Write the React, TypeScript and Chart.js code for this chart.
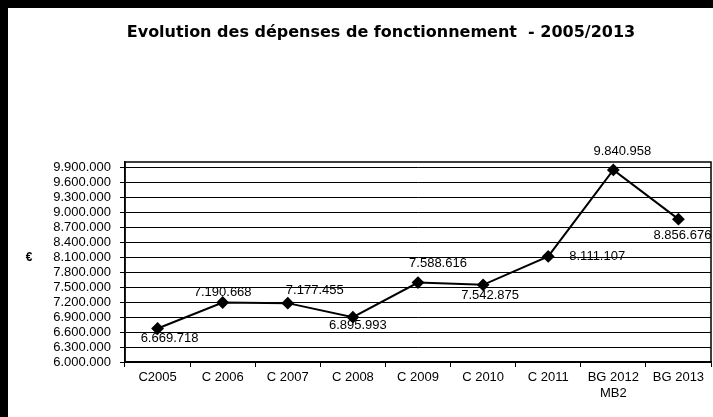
import React, { useEffect, useRef } from "react";
import { Chart, registerables } from "chart.js";
Chart.register(...registerables);

const TITLE = "Evolution des dépenses de fonctionnement  - 2005/2013";
const Y_UNIT = "€";
const CATEGORIES: (string | string[])[] = [
  "C2005",
  "C 2006",
  "C 2007",
  "C 2008",
  "C 2009",
  "C 2010",
  "C 2011",
  ["BG 2012", "MB2"],
  "BG 2013",
];
const VALUES = [6669718, 7190668, 7177455, 6895993, 7588616, 7542875, 8111107, 9840958, 8856676];
const Y_MIN = 6000000;
const Y_MAX = 10000000;
const Y_TICKS = [
  6000000, 6300000, 6600000, 6900000, 7200000, 7500000, 7800000, 8100000, 8400000, 8700000,
  9000000, 9300000, 9600000, 9900000,
];
// label placement relative to each point (dx, dy in px)
const LABEL_OFFSETS: [number, number][] = [
  [12, 10],
  [0, -10],
  [27, -13],
  [5, 8],
  [20, -19],
  [7, 11],
  [49, 0],
  [9, -19],
  [4, 16],
];

const fmt = (n: number) => Math.round(n).toString().replace(/\B(?=(\d{3})+(?!\d))/g, ".");
const FONT = "'Liberation Sans', Arial, sans-serif";

export default function App() {
  const ref = useRef<HTMLCanvasElement | null>(null);
  useEffect(() => {
    document.body.style.margin = "0";
    const canvas = ref.current!;
    const deco = {
      id: "deco",
      beforeDraw(chart: any) {
        const { ctx, width, height } = chart;
        ctx.save();
        ctx.fillStyle = "#000";
        ctx.fillRect(0, 0, width, height);
        ctx.fillStyle = "#fff";
        ctx.fillRect(8, 8, width - 8, height - 8);
        ctx.restore();
      },
      afterDatasetsDraw(chart: any) {
        const { ctx, chartArea } = chart;
        ctx.save();
        ctx.strokeStyle = "#000";
        ctx.lineWidth = 1.5;
        ctx.strokeRect(chartArea.left, chartArea.top, chartArea.right - chartArea.left, chartArea.bottom - chartArea.top);
        const meta = chart.getDatasetMeta(0);
        ctx.fillStyle = "#000";
        ctx.font = `13px ${FONT}`;
        ctx.textAlign = "center";
        ctx.textBaseline = "middle";
        meta.data.forEach((pt: any, i: number) => {
          const [dx, dy] = LABEL_OFFSETS[i];
          ctx.fillText(fmt(VALUES[i]), pt.x + dx, pt.y + dy);
        });
        ctx.font = `bold 16px 'Comic Sans MS', 'DejaVu Sans', sans-serif`;
        ctx.fillText(TITLE, 381, 33);
        ctx.font = `bold 12px ${FONT}`;
        ctx.fillText(Y_UNIT, 29, 258);
        ctx.restore();
      },
    };
    const chart = new Chart(canvas, {
      type: "line",
      data: {
        labels: CATEGORIES as any,
        datasets: [
          {
            data: VALUES,
            borderColor: "#000",
            backgroundColor: "#000",
            borderWidth: 2,
            pointStyle: "rectRot",
            pointRadius: 5,
            pointBackgroundColor: "#000",
            pointBorderColor: "#000",
            tension: 0,
          },
        ],
      },
      options: {
        animation: false,
        responsive: true,
        maintainAspectRatio: false,
        layout: { autoPadding: false, padding: { top: 162, left: 8, right: 2, bottom: 0 } },
        plugins: { legend: { display: false }, tooltip: { enabled: false }, title: { display: false } },
        scales: {
          x: {
            offset: true,
            grid: { offset: true, drawOnChartArea: false, drawTicks: true, tickLength: 5, color: "#000" },
            border: { display: true, color: "#000", width: 1.5 },
            ticks: { color: "#000", font: { family: FONT, size: 13 }, padding: 3, maxRotation: 0, autoSkip: false },
            afterFit: (s: any) => {
              s.height = 55;
              s.paddingLeft = 0;
              s.paddingRight = 0;
            },
          },
          y: {
            min: Y_MIN,
            max: Y_MAX,
            grid: { color: "#000", lineWidth: 1, drawTicks: true, tickLength: 5 },
            border: { display: true, color: "#000", width: 1.5 },
            ticks: {
              color: "#000",
              font: { family: FONT, size: 13 },
              padding: 9,
              autoSkip: false,
              callback: (v: any) => fmt(Number(v)),
            },
            afterBuildTicks: (s: any) => {
              s.ticks = Y_TICKS.map((v) => ({ value: v }));
            },
            afterFit: (s: any) => {
              s.width = 117;
              s.paddingTop = 0;
              s.paddingBottom = 0;
            },
          },
        },
      },
      plugins: [deco],
    });
    return () => chart.destroy();
  }, []);
  return (
    <div style={{ position: "absolute", left: 0, top: 0, width: 713, height: 417 }}>
      <canvas ref={ref} />
    </div>
  );
}
